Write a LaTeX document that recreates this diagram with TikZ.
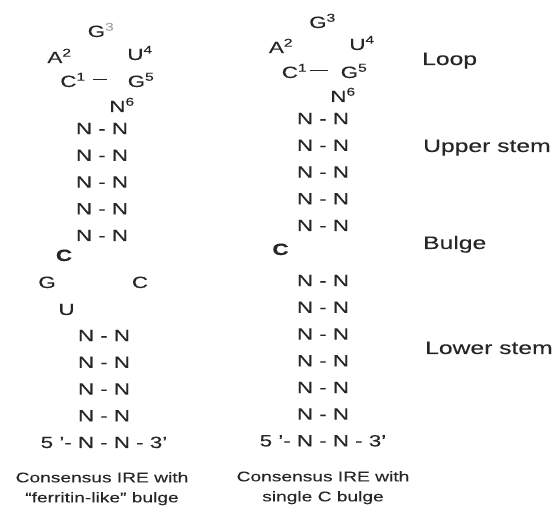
\documentclass[tikz,border=0pt]{standalone}
\usepackage{fontspec}
\setmainfont[FakeStretch=1.37, FakeBold=0.15]{Liberation Sans}
\usepackage{tikz}
\usetikzlibrary{matrix, positioning}
\definecolor{ink}{gray}{0.15}
\tikzset{
    nuc/.style={
        font=\fontsize{16.3}{19}\selectfont,
        text=ink,
        anchor=base,
        inner sep=1pt
    },
    bulgebase/.style={
        nuc,
        font=\fontsize{16.3}{19}\selectfont\bfseries
    },
    stem/.style={
        matrix of nodes,
        row sep=14.7pt,
        inner sep=0pt,
        nodes={font=\fontsize{16.3}{19}\selectfont, text=ink, text height=12pt, text depth=0pt, inner sep=0pt, anchor=center}
    },
    region/.style={
        font=\fontsize{18}{21}\selectfont,
        text=ink,
        anchor=base west,
        inner sep=0pt
    },
    caption/.style={
        font=\fontsize{14}{20}\selectfont,
        text=ink,
        align=center,
        anchor=north,
        inner sep=0pt
    },
    pairline/.style={
        draw=ink,
        line width=0.9pt
    }
}

\begin{document}
\begin{tikzpicture}[x=1pt, y=-1pt]
\useasboundingbox (0,0) rectangle (557,510);

\node[nuc] (g3L) at (101,37) {G\textsuperscript{\color{gray!70}3}};
\node[nuc] (a2L) at (59.5,63) {A\textsuperscript{2}};
\node[nuc] (u4L) at (140,60) {U\textsuperscript{4}};
\node[nuc] (c1L) at (73,87) {C\textsuperscript{1}};
\node[nuc] (g5L) at (141,87) {G\textsuperscript{5}};
\node[nuc] (n6L) at (122,112) {N\textsuperscript{6}};
\matrix (upL) [stem, anchor=north] at (102,122) {
    N - N \\
    N - N \\
    N - N \\
    N - N \\
    N - N \\
};
\node[bulgebase] (cbL) at (64,261) {C};
\node[nuc] (gL) at (47,288) {G};
\node[nuc] (cL) at (140,288) {C};
\node[nuc] (uL) at (66.5,315) {U};
\matrix (lowL) [stem, anchor=north] at (104,329) {
    N - N \\
    N - N \\
    N - N \\
    N - N \\
    5 '- N - N - 3' \\
};
\node[caption] (capL) at (102,472) {Consensus IRE with\\``ferritin-like'' bulge};

\node[nuc] (g3R) at (322.5,28) {G\textsuperscript{3}};
\node[nuc] (a2R) at (281,53) {A\textsuperscript{2}};
\node[nuc] (u4R) at (362,50) {U\textsuperscript{4}};
\node[nuc] (c1R) at (294.5,78) {C\textsuperscript{1}};
\node[nuc] (g5R) at (354,78) {G\textsuperscript{5}};
\node[nuc] (n6R) at (343,102) {N\textsuperscript{6}};
\matrix (upR) [stem, anchor=north] at (323,112) {
    N - N \\
    N - N \\
    N - N \\
    N - N \\
    N - N \\
};
\node[bulgebase] (cbR) at (280.5,255) {C};
\matrix (lowR) [stem, anchor=north] at (323,274) {
    N - N \\
    N - N \\
    N - N \\
    N - N \\
    N - N \\
    N - N \\
    5 '- N - N - 3' \\
};
\node[caption] (capR) at (323,471) {Consensus IRE with\\single C bulge};

\node[region] (loop) at (422,65) {Loop};
\node[region] (upper) at (423,152) {Upper stem};
\node[region] (bulge) at (423,249) {Bulge};
\node[region] (lower) at (425,354) {Lower stem};

\path [pairline, shorten <=6pt, shorten >=20pt] ([yshift=8pt]c1L.base east) edge ([yshift=8pt]g5L.base west);
\path [pairline, shorten <=2pt, shorten >=12pt] ([yshift=8pt]c1R.base east) edge ([yshift=8pt]g5R.base west);

\end{tikzpicture}
\end{document}
